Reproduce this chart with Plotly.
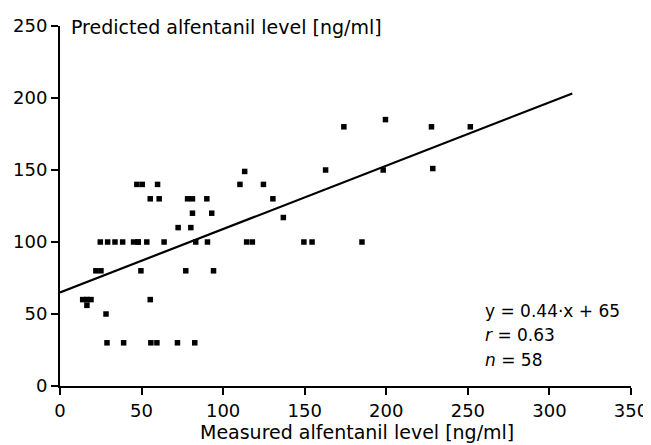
import plotly.graph_objects as go

# Measured (x) and predicted (y) alfentanil levels [ng/ml]
measured = [174, 199.5, 227.7, 251.5,
            113.2, 162.8, 198.1, 228.5,
            47.1, 50.4, 59.8, 110.3, 124.7,
            55.3, 60.8, 78.2, 81.2, 90, 130.5,
            81.2, 93, 136.9,
            72.4, 80.2,
            24.7, 29.2, 33.7, 38.4, 45.1, 47.9, 47.9, 53.2, 63.8, 83.2, 90.4,
            114.4, 117.9, 149.5, 154.5, 185.1,
            22, 25.1, 49.6, 77.1, 94.1,
            13.9, 16.5, 16.5, 19, 16.5, 55.3,
            28.2,
            28.8, 39, 55.7, 59.4, 72, 82.6]
predicted = [180, 185, 180, 180,
             149, 150, 150, 151,
             140, 140, 140, 140, 140,
             130, 130, 130, 130, 130, 130,
             120, 120, 117,
             110, 110,
             100, 100, 100, 100, 100, 100, 100, 100, 100, 100, 100,
             100, 100, 100, 100, 100,
             80, 80, 80, 80, 80,
             60, 60, 60, 60, 56, 60,
             50,
             30, 30, 30, 30, 30, 30]

slope = 0.44
intercept = 65
fit_x = [0, 314]
fit_y = [slope * v + intercept for v in fit_x]

x_ticks = [0, 50, 100, 150, 200, 250, 300, 350]
y_ticks = [0, 50, 100, 150, 200, 250]

FONT = "DejaVu Sans, Verdana, sans-serif"

fig = go.Figure()
fig.add_trace(go.Scatter(x=fit_x, y=fit_y, mode="lines",
                         line=dict(color="black", width=2.2),
                         showlegend=False, hoverinfo="skip"))
fig.add_trace(go.Scatter(x=measured, y=predicted, mode="markers",
                         marker=dict(symbol="square", size=5.5, color="black",
                                     line=dict(width=0)),
                         showlegend=False))

axis_common = dict(ticks="outside", ticklen=7, tickwidth=1.5, tickcolor="black",
                   showline=True, linecolor="black", linewidth=2,
                   showgrid=False, zeroline=False, automargin=False,
                   tickfont=dict(size=18, family=FONT, color="black"))

fig.update_layout(
    width=643, height=437,
    margin=dict(l=51.5, r=20, t=17.5, b=58.5),
    paper_bgcolor="white", plot_bgcolor="white",
    font=dict(family=FONT, size=18, color="black"),
    xaxis=dict(range=[0, 350], tickvals=x_ticks, **axis_common),
    yaxis=dict(range=[0, 250], tickvals=y_ticks, **axis_common),
    annotations=[
        dict(text="Measured alfentanil level [ng/ml]", x=0.52, y=0,
             xref="paper", yref="paper", yshift=-46, showarrow=False,
             xanchor="center", yanchor="middle", font=dict(size=19)),
        dict(text="Predicted alfentanil level [ng/ml]", x=0, y=1,
             xref="paper", yref="paper", xshift=8.5, yshift=-1, showarrow=False,
             xanchor="left", yanchor="middle", font=dict(size=19)),
        dict(text="y\u00a0=\u00a00.44·x\u00a0+\u00a065", x=0.741, y=0,
             xref="paper", yref="paper", yshift=75.5, showarrow=False,
             xanchor="left", yanchor="middle", font=dict(size=17)),
        dict(text="<i>r</i>\u00a0=\u00a00.63", x=0.741, y=0, xref="paper",
             yref="paper", yshift=51, showarrow=False, xanchor="left",
             yanchor="middle", font=dict(size=17)),
        dict(text="<i>n</i>\u00a0=\u00a058", x=0.741, y=0, xref="paper",
             yref="paper", yshift=26.5, showarrow=False, xanchor="left",
             yanchor="middle", font=dict(size=17)),
    ],
)

fig.write_html("out.html")
